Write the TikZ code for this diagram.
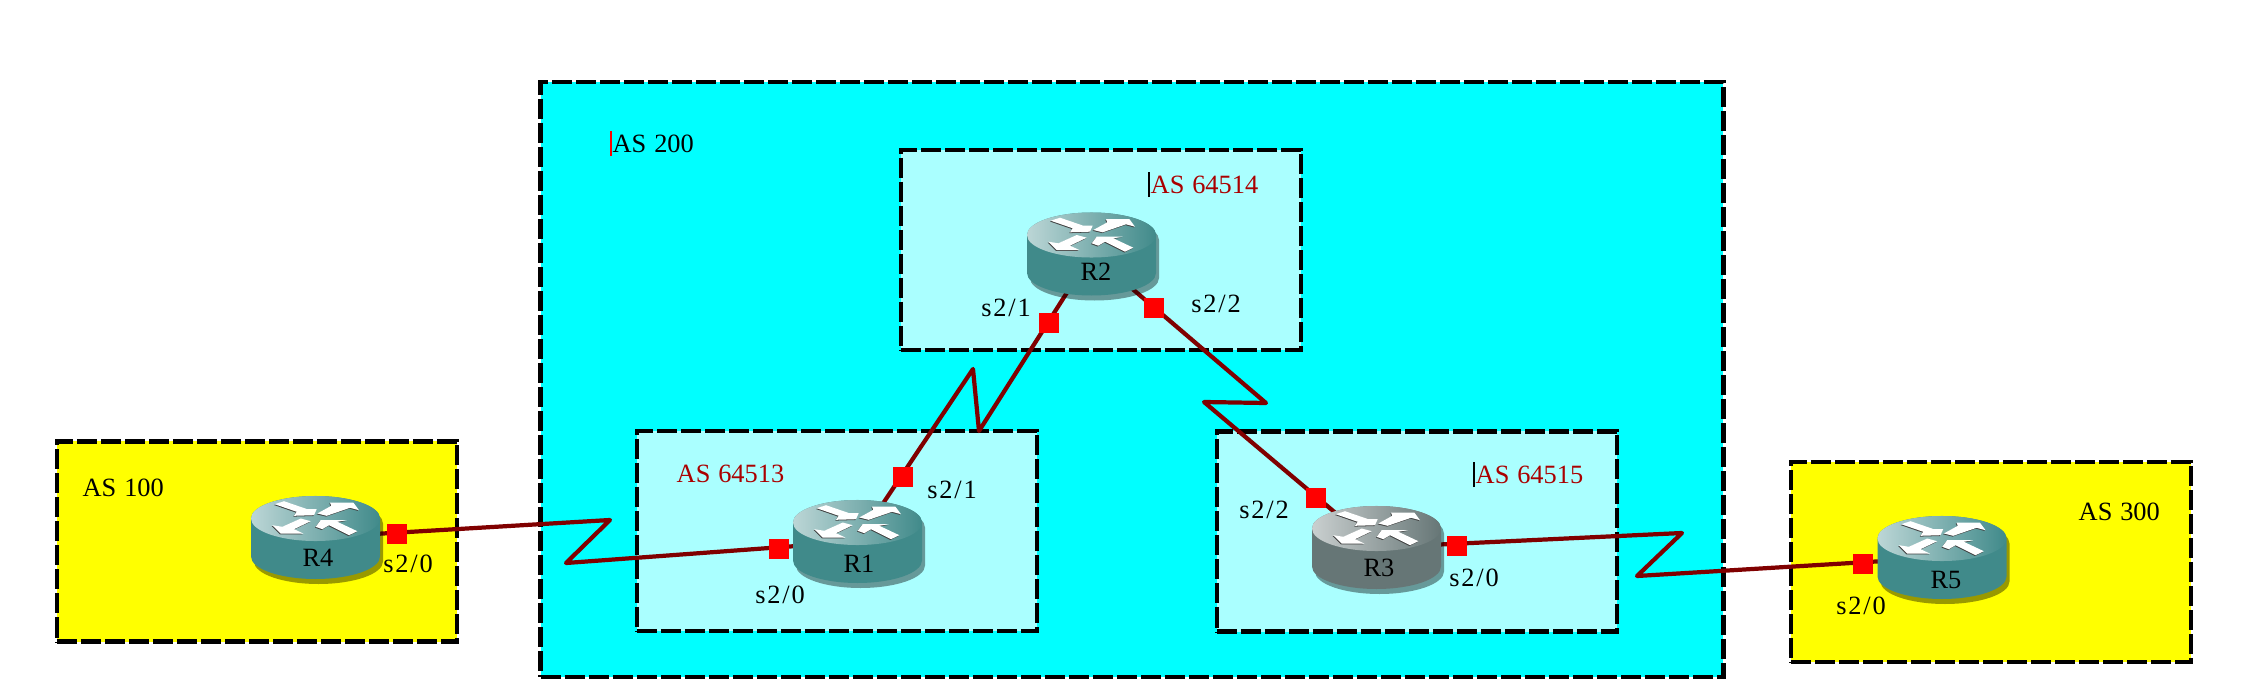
\documentclass[tikz,border=0pt]{standalone}
\usepackage{fontspec}
\setmainfont{Liberation Serif}[WordSpace=1.2]
\newfontfamily\portfont{Liberation Serif}[LetterSpace=7]
\usetikzlibrary{backgrounds}

\definecolor{asyellow}{HTML}{FFFF00}
\definecolor{ascyan}{HTML}{00FFFF}
\definecolor{aspale}{HTML}{AAFFFF}
\definecolor{linkred}{HTML}{800000}
\definecolor{asred}{HTML}{AA0000}
\definecolor{tealbody}{HTML}{408A8A}
\definecolor{greybody}{HTML}{667676}

\newcommand{\cursorbar}[1]{\rlap{\kern-.8pt\textcolor{#1}{\rule[-1.2pt]{.5pt}{7.2pt}}}}
\newcommand{\bodypath}{(-64.5,-19) .. controls (-64.5,-31.4) and (-35.6,-41.5) .. (0,-41.5)
  .. controls (35.6,-41.5) and (64.5,-31.4) .. (64.5,-19) -- (64.5,19)
  .. controls (64.5,31.4) and (35.6,41.5) .. (0,41.5)
  .. controls (-35.6,41.5) and (-64.5,31.4) .. (-64.5,19) -- cycle}
\newcommand{\arrowpaths}{(-31.5,-36.3) -- (-8.2,-28.3) -- (1.2,-28.3) -- (-1.5,-22.3) -- (-21.5,-21.7) -- (-18.8,-25.7) -- (-40.8,-33.3) -- cycle
  (1.8,-24) -- (15.8,-31.7) -- (14.5,-35) -- (37.8,-35) -- (43.5,-27.3) -- (34.5,-29.7) -- (11.2,-21.7) -- cycle
  (-4.8,-16.3) -- (-14.8,-19) -- (-33.2,-10.7) -- (-43.2,-12.3) -- (-34.8,-4) -- (-12.2,-4) -- (-21.5,-8.3) -- cycle
  (0.2,-10.7) -- (5.2,-17.3) -- (31.2,-17.3) -- (21.8,-15.7) -- (41.8,-6.3) -- (33.5,-2.3) -- (13.5,-12.3) -- (6.8,-8.3) -- cycle}

\tikzset{
  asbox/.style={draw=black, line width=1.25pt, dash pattern=on .2cm off .04cm, inner sep=0pt, outer sep=0pt},
  astext/.style={anchor=base west, inner sep=0pt, font=\fontsize{7.5}{9}\selectfont},
  rtrtext/.style={anchor=base, inner sep=0pt, font=\fontsize{7.5}{9}\selectfont},
  porttext/.style={anchor=base, inner sep=0pt, font=\fontsize{7.5}{9}\portfont},
  rtr/.style={inner sep=0pt, minimum size=0pt, outer sep=0pt},
  port/.style={fill=red, inner sep=0pt, outer sep=0pt, minimum size=.2cm},
  link/.style={draw=linkred, line width=1.2pt, line join=round, line cap=round},
  pics/routerpic/.style={code={
    \fill[black, opacity=.4, shift={(3,5)}] \bodypath;
    \fill[#1] \bodypath;
    \shade[left color=#1!35!white, middle color=#1, right color=#1] (0,-19) ellipse [x radius=.645cm, y radius=.225cm];
    \fill[black!75, shift={(-.7,.8)}] \arrowpaths;
    \fill[white] \arrowpaths;
  }}
}

\begin{document}
\begin{tikzpicture}[x=.01cm, y=-.01cm]
            \useasboundingbox (0,0) rectangle (2244,694);

            % AS boxes
            \begin{pgfonlayer}{background}
            \node[asbox, fill=asyellow, minimum width=4cm, minimum height=2cm] (box100) at (257,541.5) {};
            \node[asbox, fill=ascyan, minimum width=11.82cm, minimum height=5.95cm] (box200) at (1132,379.5) {};
            \node[asbox, fill=asyellow, minimum width=4cm, minimum height=2cm] (box300) at (1991,562) {};
            \node[asbox, fill=aspale, minimum width=4cm, minimum height=2cm] (box64514) at (1101,250) {};
            \node[asbox, fill=aspale, minimum width=4cm, minimum height=2cm] (box64513) at (837,531) {};
            \node[asbox, fill=aspale, minimum width=4cm, minimum height=2cm] (box64515) at (1417,531.5) {};
            \end{pgfonlayer}

            % AS labels
            \node[astext] (as100) at (82,496) {AS 100};
            \node[astext] (as200) at (612,152) {\cursorbar{red}AS 200};
            \node[astext] (as300) at (2078,520) {AS 300};
            \node[astext, text=asred] (as64514) at (1150,193) {\cursorbar{black}AS 64514};
            \node[astext, text=asred] (as64513) at (676,482) {AS 64513};
            \node[astext, text=asred] (as64515) at (1475,483) {\cursorbar{black}AS 64515};

            % Routers
            \pic at (315.5,537.5) {routerpic=tealbody};
            \pic at (857.5,541.5) {routerpic=tealbody};
            \pic at (1091.5,254) {routerpic=tealbody};
            \pic at (1376.5,547.5) {routerpic=greybody};
            \pic at (1942,557.5) {routerpic=tealbody};
            \node[rtr] (R4) at (315.5,537.5) {};
            \node[rtr] (R1) at (857.5,541.5) {};
            \node[rtr] (R2) at (1091.5,254) {};
            \node[rtr] (R3) at (1376.5,547.5) {};
            \node[rtr] (R5) at (1942,557.5) {};
            \node[rtrtext] (R4text) at (318,566) {R4};
            \node[rtrtext] (R1text) at (859,572) {R1};
            \node[rtrtext] (R2text) at (1096,280) {R2};
            \node[rtrtext] (R3text) at (1379,576) {R3};
            \node[rtrtext] (R5text) at (1946,588) {R5};

            % Ports
            \node[port] (P4a) at (397,534) {};
            \node[port] (P1a) at (779,549) {};
            \node[port] (P1b) at (903,477) {};
            \node[port] (P2b) at (1049,323) {};
            \node[port] (P2c) at (1154,308) {};
            \node[port] (P3c) at (1316,498) {};
            \node[port] (P3a) at (1457,546) {};
            \node[port] (P5a) at (1863,564) {};

            % Port labels
            \node[porttext] (P4atext) at (408,572) {s2/0};
            \node[porttext] (P1atext) at (780,603) {s2/0};
            \node[porttext] (P1btext) at (952,498) {s2/1};
            \node[porttext] (P2btext) at (1006,316) {s2/1};
            \node[porttext] (P2ctext) at (1216,312) {s2/2};
            \node[porttext] (P3ctext) at (1264,518) {s2/2};
            \node[porttext] (P3atext) at (1474,586) {s2/0};
            \node[porttext] (P5atext) at (1861,614) {s2/0};

            % Bends of the serial links
            \coordinate (Z41a) at (610,520);
            \coordinate (Z41b) at (566,563);
            \coordinate (Z21a) at (979,431);
            \coordinate (Z21b) at (973,369);
            \coordinate (Z23a) at (1266,403);
            \coordinate (Z23b) at (1204,402);
            \coordinate (Z35a) at (1682,533);
            \coordinate (Z35b) at (1637,576);

            % Lines
            \begin{pgfonlayer}{background}
            \draw[link] (R4) -- (Z41a) -- (Z41b) -- (R1);
            \draw[link] (R2) -- (Z21a) -- (Z21b) -- (R1);
            \draw[link] (R2) -- (Z23a) -- (Z23b) -- (R3);
            \draw[link] (R3) -- (Z35a) -- (Z35b) -- (R5);
            \end{pgfonlayer}
        \end{tikzpicture}
\end{document}
